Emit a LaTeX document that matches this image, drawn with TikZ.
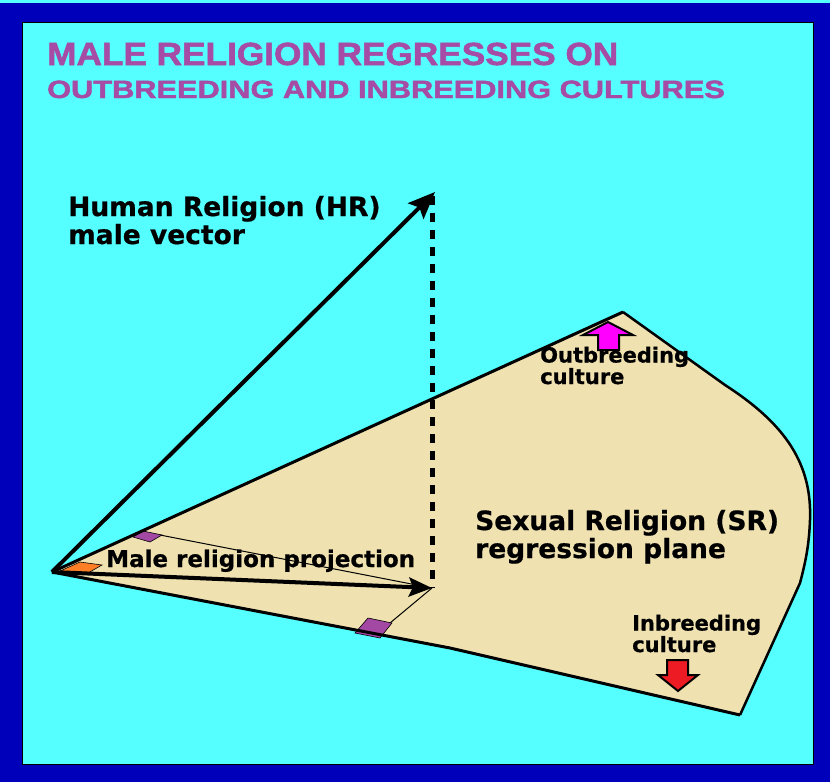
\documentclass[tikz,border=0pt]{standalone}
\usepackage{fontspec}
\setmainfont{DejaVu Sans}[BoldFeatures={FakeBold=0.6}]
\newfontfamily\titlefont{Liberation Sans Bold}[FakeBold=1.6]
\usetikzlibrary{arrows.meta, positioning}
\definecolor{cFrame}{RGB}{0,0,187}
\definecolor{cSky}{RGB}{85,255,255}
\definecolor{cPlane}{RGB}{239,225,176}
\definecolor{cTitle}{RGB}{166,76,166}
\definecolor{cPurple}{RGB}{163,73,164}
\definecolor{cOrange}{RGB}{255,127,39}
\definecolor{cMagenta}{RGB}{255,0,255}
\definecolor{cRed}{RGB}{237,28,36}
\tikzset{
	titleline/.style={anchor=base west, inner sep=0pt, text=cTitle},
	biglbl/.style   ={anchor=base west, inner sep=0pt, align=left, font=\bfseries\fontsize{26.5}{28}\selectfont},
	smalllbl/.style ={anchor=base west, inner sep=0pt, align=left, font=\bfseries\fontsize{21}{17}\selectfont},
	edge/.style     ={line width=3pt, line join=round},
	vec/.style      ={line width=4pt, -{Stealth[length=27pt, width=22pt, inset=5pt]}},
	projvec/.style  ={line width=4pt, -{Stealth[length=23pt, width=19pt, inset=4pt]}},
	dropline/.style ={line width=5pt, dash pattern=on 9pt off 8pt},
	thin/.style     ={line width=1pt},
	marker/.style   ={draw=black, line width=0.6pt},
	blockarrow/.style={draw=black, line width=2pt, line join=miter},
}
\begin{document}
\begin{tikzpicture}[x=1pt, y=-1pt]
	\useasboundingbox (0,0) rectangle (830,782);
	% frame
	\fill[cFrame] (0,3) rectangle (830,782);
	\fill[cSky] (0,0) rectangle (830,3);
	\draw[fill=cSky, line width=1pt] (22,22) rectangle (813,764);
	% title
	\node[titleline] (t1) at (47,65) {\scalebox{1.1}[1]{\titlefont\fontsize{32}{32}\selectfont MALE RELIGION REGRESSES ON}};
	\node[titleline] (t2) at (47,98) {\scalebox{1.23}[1]{\titlefont\fontsize{25}{25}\selectfont OUTBREEDING AND INBREEDING CULTURES}};
	% key points
	\coordinate (o) at (52,572);
	\coordinate (apex) at (623,312);
	\coordinate (far) at (740,715);
	\coordinate (hrtip) at (435,192);
	\coordinate (ptip) at (432,588);
	\coordinate (droptop) at (432,196);
	% regression plane
	\fill[cPlane] (o) -- (apex) -- (725,385) .. controls (787,425) and (812,465) .. (810,520)
		.. controls (809,545) and (806,560) .. (800,583) -- (far) -- (450,648) -- cycle;
	\draw[thin] (160,535) -- (ptip);
	\draw[thin] (ptip) -- (390,623);
	\draw[marker, fill=cPurple] (133,537) -- (143,531) -- (162,535) -- (150,542) -- cycle;
	\draw[marker, fill=cPurple] (355,633) -- (368,618) -- (392,623) -- (380,638) -- cycle;
	\draw[marker, fill=cOrange] (58,572) -- (80,562) -- (102,565) -- (88,573) -- cycle;
	\draw[edge] (o) -- (apex);
	\draw[line width=2.5pt, line join=round] (apex) -- (725,385) .. controls (787,425) and (812,465) .. (810,520)
		.. controls (809,545) and (806,560) .. (800,583) -- (far);
	\draw[edge] (far) -- (450,648) -- (o);
	% vectors
	\draw[dropline] (droptop) -- (ptip);
	\draw[vec] (o) -- (hrtip);
	\draw[projvec] (o) -- (ptip);
	% culture arrows
	\draw[blockarrow, fill=cMagenta] (608,322) -- (633,335) -- (619,335) -- (619,350) -- (598,350) -- (598,335) -- (583,335) -- cycle;
	\draw[blockarrow, fill=cRed] (678,691) -- (698,675) -- (688,675) -- (688,660) -- (667,660) -- (667,675) -- (658,675) -- cycle;
	% labels (base = last line)
	\node[biglbl] (hr) at (68,244) {Human Religion (HR)\\male vector};
	\node[biglbl] (sr) at (475,558) {Sexual Religion (SR)\\regression plane};
	\node[anchor=base west, inner sep=0pt, font=\bfseries\fontsize{23}{23}\selectfont] (proj) at (106,567) {Male religion projection};
	\node[smalllbl] (outb) at (540,384) {Outbreeding\\culture};
	\node[smalllbl] (inb) at (632,652) {Inbreeding\\culture};
\end{tikzpicture}
\end{document}
